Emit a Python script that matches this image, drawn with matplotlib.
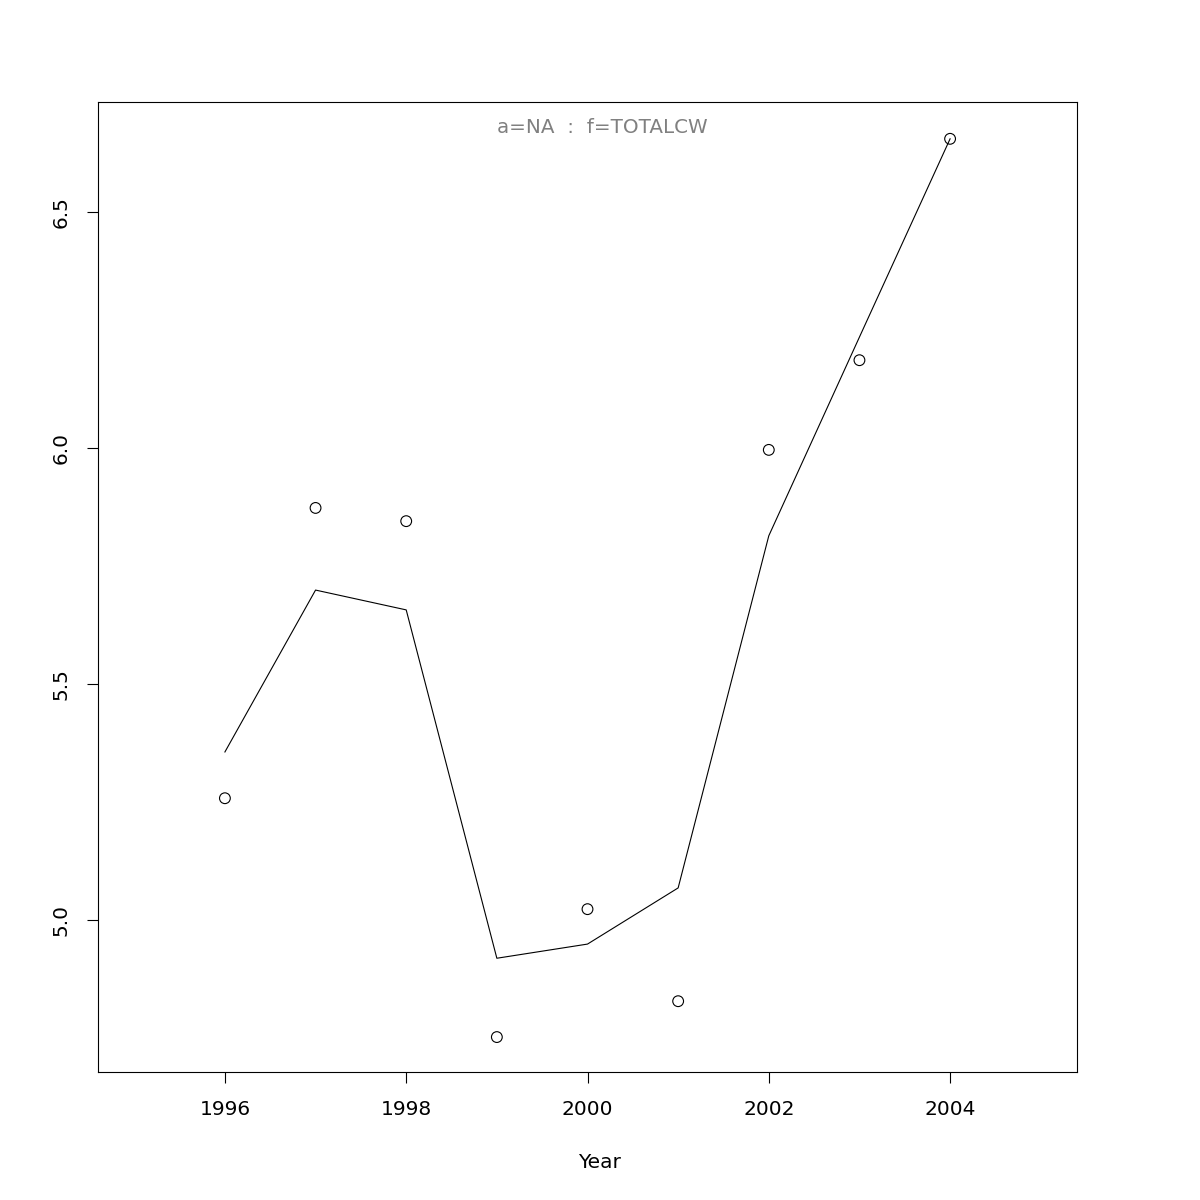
import matplotlib
matplotlib.use("Agg")
import matplotlib.pyplot as plt

years = [1996, 1997, 1998, 1999, 2000, 2001, 2002, 2003, 2004]
observed = [5.258, 5.873, 5.845, 4.752, 5.023, 4.828, 5.996, 6.186, 6.655]
fitted = [5.356, 5.699, 5.657, 4.919, 4.949, 5.068, 5.814, 6.235, 6.655]
x_ticks = [1996, 1998, 2000, 2002, 2004]
y_ticks = [5.0, 5.5, 6.0, 6.5]

fig = plt.figure(figsize=(12, 12), dpi=100)
ax = fig.add_axes([98 / 1200, 1 - 1072 / 1200, 979 / 1200, 970 / 1200])

ax.plot(years, fitted, color="black", linewidth=0.8)
ax.scatter(years, observed, s=60, facecolors="none", edgecolors="black", linewidths=0.8)

ax.set_xlim(1994.6, 2005.4)
ax.set_ylim(4.678, 6.733)
ax.set_xticks(x_ticks)
ax.set_xticklabels([str(t) for t in x_ticks], fontsize=14.5)
ax.set_yticks(y_ticks)
ax.set_yticklabels(["%.1f" % t for t in y_ticks], fontsize=14.5, rotation=90, va="center")
ax.tick_params(direction="out", length=8, width=0.8, pad=12)
for s in ax.spines.values():
    s.set_linewidth(0.8)

# axis label centred on the figure, like R's device
fig.text(0.5, 1 - 1162 / 1200, "Year", ha="center", va="center", fontsize=14.5)
ax.text(0.515, 0.974, "a=NA  :  f=TOTALCW", transform=ax.transAxes,
        ha="center", va="center", fontsize=14.3, color="gray")

fig.savefig("out.png", dpi=100)
